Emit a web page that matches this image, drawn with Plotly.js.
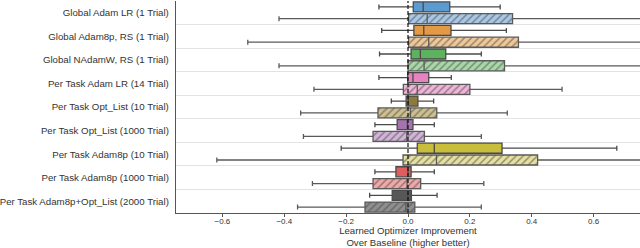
<!DOCTYPE html>
<html>
<head>
<meta charset="utf-8">
<script src="https://cdn.plot.ly/plotly-3.0.1.min.js"></script>
<style>html,body{margin:0;padding:0;background:#fff;}#chart{width:640px;height:248px;}</style>
</head>
<body>
<div id="chart"></div>
<script>
const labels = [
  'Global Adam LR (1 Trial)',
  'Global Adam8p, RS (1 Trial)',
  'Global NAdamW, RS (1 Trial)',
  'Per Task Adam LR (14 Trial)',
  'Per Task Opt_List (10 Trial)',
  'Per Task Opt_List (1000 Trial)',
  'Per Task Adam8p (10 Trial)',
  'Per Task Adam8p (1000 Trial)',
  'Per Task Adam8p+Opt_List (2000 Trial)'
];
const solidLow  = [-0.094, -0.085, -0.092, -0.094, -0.054, -0.107, -0.216, -0.107, -0.124];
const solidQ1   = [ 0.017,  0.019,  0.010, -0.001, -0.006, -0.035,  0.030, -0.039, -0.051];
const solidMed  = [ 0.049,  0.051,  0.040,  0.016,  0.001, -0.002,  0.085,  0.000, -0.001];
const solidQ3   = [ 0.135,  0.139,  0.122,  0.067,  0.032,  0.016,  0.304,  0.010,  0.011];
const solidHigh = [ 0.298,  0.318,  0.237,  0.140,  0.083,  0.085,  0.675,  0.085,  0.094];

const hatchLow  = [-0.417, -0.518, -0.417, -0.304, -0.347, -0.338, -0.618, -0.309, -0.357];
const hatchQ1   = [ 0.002,  0.002,  0.000, -0.015, -0.097, -0.113, -0.016, -0.113, -0.139];
const hatchMed  = [ 0.062,  0.067,  0.052,  0.030,  0.008, -0.004,  0.092, -0.003, -0.007];
const hatchQ3   = [ 0.338,  0.357,  0.312,  0.200,  0.093,  0.053,  0.419,  0.041,  0.022];
const hatchHigh = [ 0.950,  1.000,  0.900,  0.498,  0.321,  0.237,  1.100,  0.245,  0.237];

const solidColors = ['#5b9bd0','#e49a45','#5db35d','#e683c0','#8b7a3a','#a672b0','#c9bd3c','#e05d5d','#575757'];
const hatchColors = ['#a9c8e6','#f0c898','#a8d8a8','#f0b4d8','#cdbf8e','#d2b4d8','#e6e0a0','#f0a8a8','#8f8f8f'];

const xTicks = [-0.6, -0.4, -0.2, 0.0, 0.2, 0.4, 0.6];

const lineCol = '#4a4a4a';
const traces = [];

// hatched fill under the light boxes
traces.push({
  type: 'bar',
  orientation: 'h',
  y: labels,
  base: hatchQ1,
  x: hatchQ3.map((q, i) => q - hatchQ1[i]),
  width: 0.425,
  offset: 0.0375,
  marker: {
    color: hatchColors,
    line: {width: 0},
    pattern: {shape: '/', fillmode: 'overlay', fgcolor: 'rgba(255,255,255,0.35)', size: 5, solidity: 0.3}
  },
  hoverinfo: 'skip',
  showlegend: false
});

labels.forEach((lab, i) => {
  traces.push({
    type: 'box', orientation: 'h', y: [lab],
    q1: [solidQ1[i]], median: [solidMed[i]], q3: [solidQ3[i]],
    lowerfence: [solidLow[i]], upperfence: [solidHigh[i]],
    fillcolor: solidColors[i], line: {color: lineCol, width: 1.3},
    whiskerwidth: 0.5, boxpoints: false,
    offsetgroup: 'a', alignmentgroup: 'g', showlegend: false
  });
  traces.push({
    type: 'box', orientation: 'h', y: [lab],
    q1: [hatchQ1[i]], median: [hatchMed[i]], q3: [hatchQ3[i]],
    lowerfence: [hatchLow[i]], upperfence: [hatchHigh[i]],
    fillcolor: 'rgba(0,0,0,0)', line: {color: '#5a5a5a', width: 1.3},
    whiskerwidth: 0.5, boxpoints: false,
    offsetgroup: 'b', alignmentgroup: 'g', showlegend: false
  });
});

const layout = {
  width: 640, height: 248,
  margin: {l: 176, r: 0, t: 1, b: 35},
  paper_bgcolor: '#fff', plot_bgcolor: '#fff',
  boxmode: 'group', boxgap: 0, boxgroupgap: 0.15,
  barmode: 'overlay',
  font: {family: 'Liberation Sans, Arial, sans-serif', color: '#333'},
  xaxis: {
    range: [-0.75, 0.75],
    tickvals: xTicks, tickformat: '.1f',
    tickfont: {size: 8, color: '#333'},
    ticks: 'outside', ticklen: 3, tickcolor: '#555',
    ticklabelstandoff: -3,
    showgrid: false, zeroline: false,
    showline: true, linecolor: '#555', linewidth: 1.2,
    automargin: false,
    title: {text: 'Learned Optimizer Improvement<br>Over Baseline (higher better)', font: {size: 9.6, color: '#333'}, standoff: 0}
  },
  yaxis: {
    type: 'category', categoryorder: 'array', categoryarray: labels,
    range: [8.5, -0.5],
    tickson: 'boundaries', ticks: '',
    showgrid: true, gridcolor: '#e3e3e3', gridwidth: 1,
    showline: true, linecolor: '#555', linewidth: 1.2,
    tickfont: {size: 9.7, color: '#333'}, ticklabelstandoff: 4
  },
  shapes: [{
    type: 'line', xref: 'x', yref: 'paper', x0: 0, x1: 0, y0: 0, y1: 1,
    line: {color: '#111', width: 1.2, dash: '4px,2px'}, layer: 'above'
  }]
};

Plotly.newPlot('chart', traces, layout, {staticPlot: true, displayModeBar: false});
</script>
</body>
</html>
